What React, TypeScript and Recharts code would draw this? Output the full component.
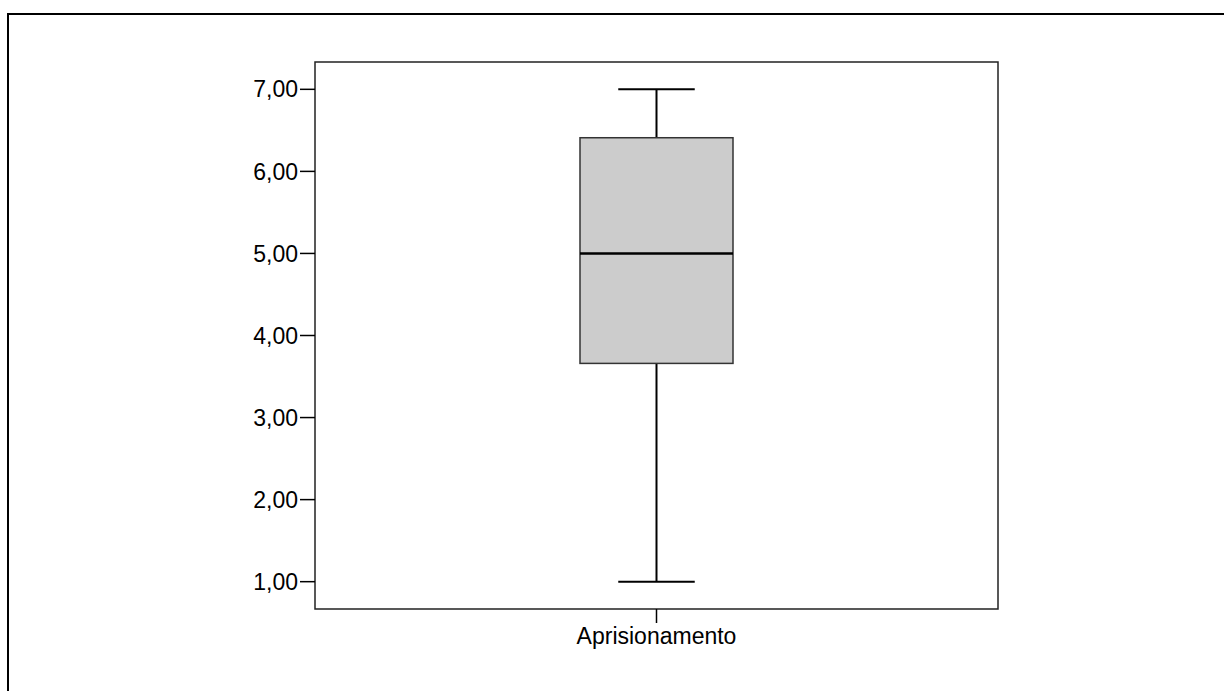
import React from "react";
import { ComposedChart, Bar, XAxis, YAxis, ReferenceArea } from "recharts";

const categories = ["Aprisionamento"];
const minValues = [1.0];
const q1Values = [3.66];
const medianValues = [5.0];
const q3Values = [6.41];
const maxValues = [7.0];
const yTicks = [1, 2, 3, 4, 5, 6, 7];
const yDomain = [0.667, 7.333];

const data = categories.map((name, i) => ({
  name,
  range: [minValues[i], maxValues[i]],
  min: minValues[i],
  q1: q1Values[i],
  median: medianValues[i],
  q3: q3Values[i],
  max: maxValues[i],
}));

const fmt = (v: number) => v.toFixed(2).replace(".", ",");

const BoxShape = (props: any) => {
  const { x, y, width, height, payload } = props;
  const { min, q1, median, q3, max } = payload;
  const toPx = (v: number) => y + ((max - v) / (max - min)) * height;
  const cx = x + width / 2;
  const capHalf = width / 4;
  const yMax = toPx(max);
  const yMin = toPx(min);
  const yQ1 = toPx(q1);
  const yQ3 = toPx(q3);
  const yMed = toPx(median);
  return (
    <g>
      <line x1={cx} x2={cx} y1={yMax} y2={yQ3} stroke="#000" strokeWidth={2} />
      <line x1={cx} x2={cx} y1={yQ1} y2={yMin} stroke="#000" strokeWidth={2} />
      <line x1={cx - capHalf} x2={cx + capHalf} y1={yMax} y2={yMax} stroke="#000" strokeWidth={2} />
      <line x1={cx - capHalf} x2={cx + capHalf} y1={yMin} y2={yMin} stroke="#000" strokeWidth={2} />
      <rect x={x} y={yQ3} width={width} height={yQ1 - yQ3} fill="#cccccc" stroke="#333" strokeWidth={1.5} />
      <line x1={x} x2={x + width} y1={yMed} y2={yMed} stroke="#000" strokeWidth={2.5} />
    </g>
  );
};

const font = { fontFamily: "'Liberation Sans', Arial, sans-serif", fontSize: 23, fill: "#000" };

export default function App() {
  return (
    <div style={{ position: "absolute", left: 0, top: 0, width: 1224, height: 691, background: "#fff", overflow: "hidden" }}>
      <div
        style={{
          position: "absolute",
          left: 7,
          top: 13,
          width: 1217,
          height: 678,
          borderTop: "2px solid #000",
          borderLeft: "2px solid #000",
          boxSizing: "border-box",
        }}
      />
      <div style={{ position: "absolute", left: 0, top: 0 }}>
        <ComposedChart
          width={1224}
          height={691}
          data={data}
          margin={{ top: 62, right: 226, bottom: 42, left: 0 }}
        >
          <XAxis
            dataKey="name"
            xAxisId="main"
            height={40}
            tickSize={14}
            tickMargin={5}
            tick={font}
            tickLine={{ stroke: "#000", strokeWidth: 1.5 }}
            axisLine={false}
          />
          <YAxis
            yAxisId="main"
            type="number"
            domain={yDomain}
            ticks={yTicks}
            allowDataOverflow
            width={315}
            tickSize={15}
            tickMargin={2}
            tickFormatter={fmt}
            tick={font}
            tickLine={{ stroke: "#000", strokeWidth: 1.5 }}
            axisLine={false}
          />
          <ReferenceArea
            xAxisId="main"
            yAxisId="main"
            y1={yDomain[0]}
            y2={yDomain[1]}
            fill="none"
            fillOpacity={0}
            stroke="#222"
            strokeWidth={1.5}
            ifOverflow="visible"
          />
          <Bar
            dataKey="range"
            xAxisId="main"
            yAxisId="main"
            barSize={153}
            shape={BoxShape}
            isAnimationActive={false}
          />
        </ComposedChart>
      </div>
    </div>
  );
}
